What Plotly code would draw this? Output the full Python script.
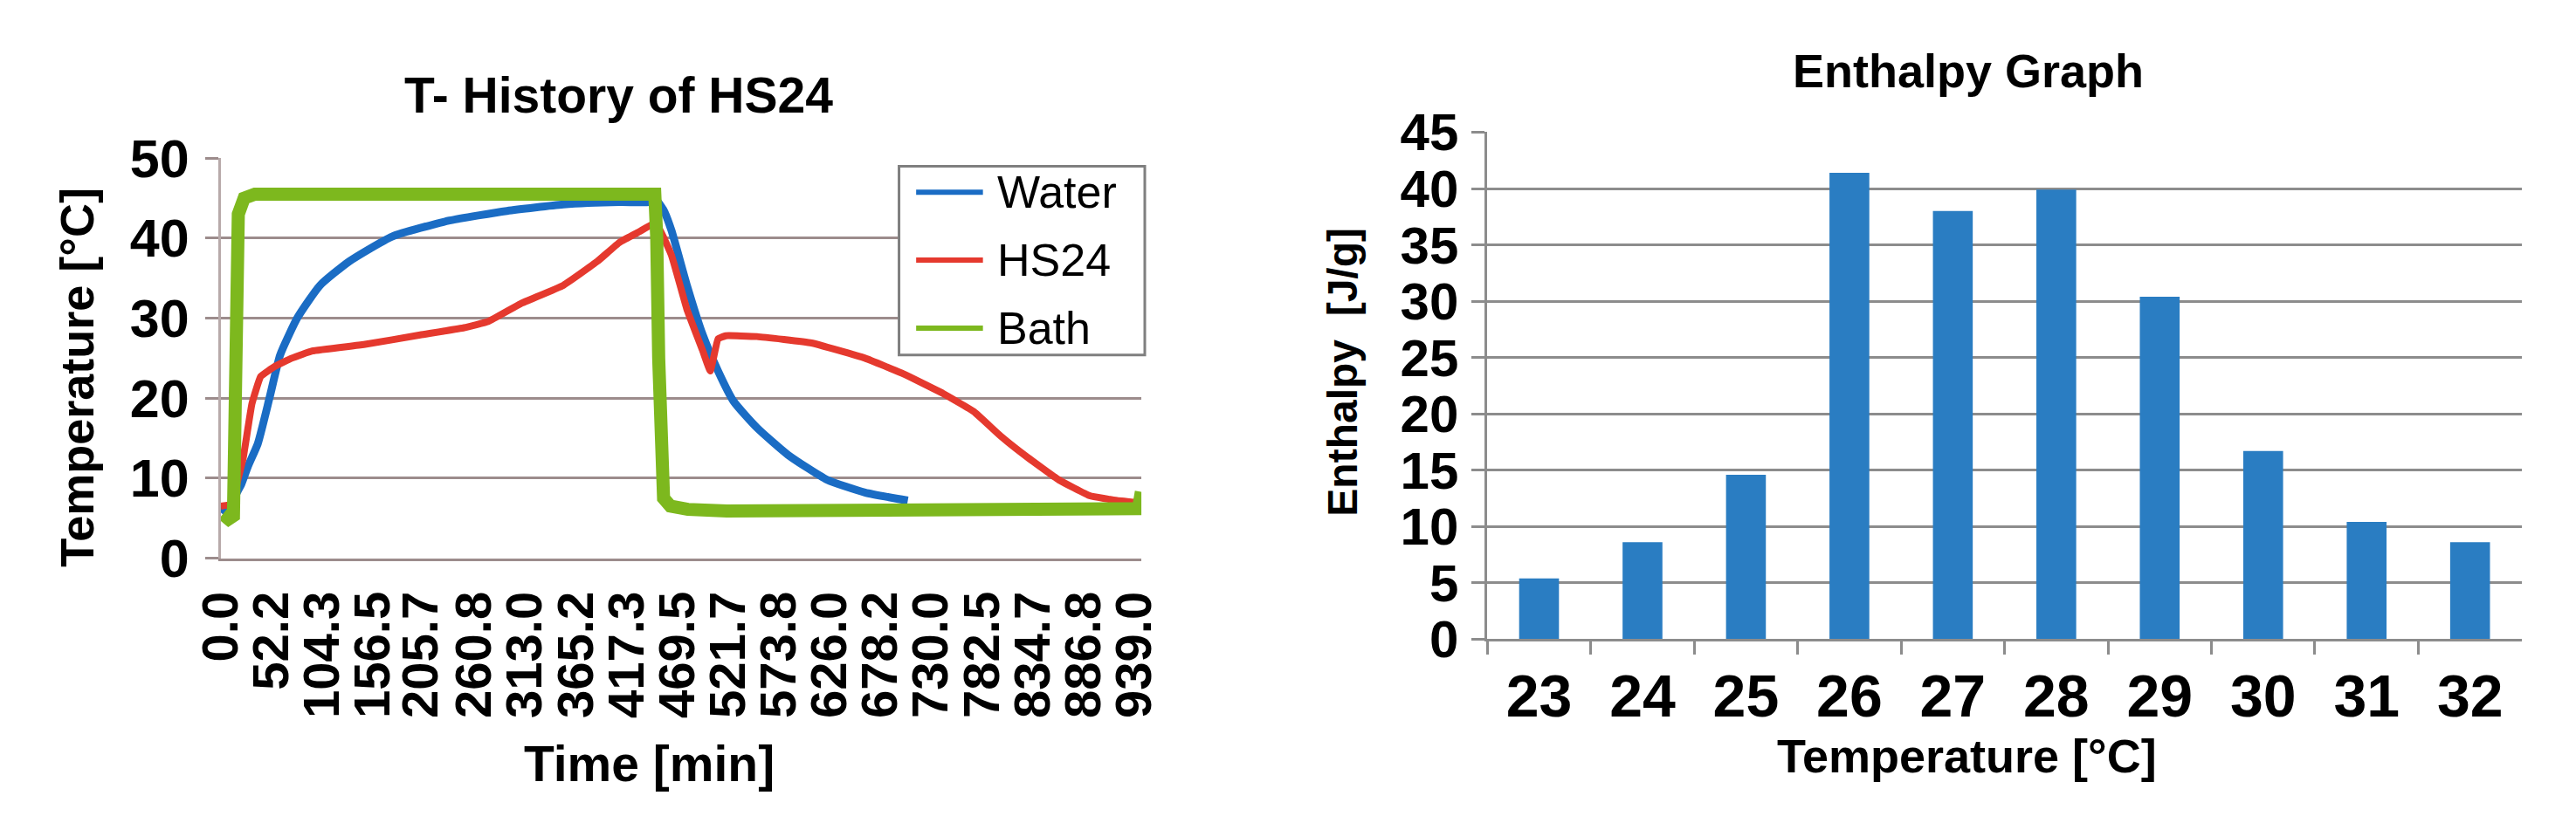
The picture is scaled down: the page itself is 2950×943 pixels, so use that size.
import plotly.graph_objects as go

W, H = 2950, 943

# ---- left chart: T-history (time in min, temperature in degC) ----
water_t = [0, 5, 12, 17, 21, 28, 38, 50, 61, 79, 102, 132, 176, 235, 294, 352, 410, 440,
           447, 455, 463, 479, 495, 511, 527, 551, 583, 623, 662, 706]
water_T = [6.5, 5.8, 7.0, 8.3, 9.2, 11.5, 14.3, 20.0, 25.4, 30.1, 34.1, 37.1, 40.2, 42.2,
           43.4, 44.2, 44.5, 44.5, 44.8, 43.5, 41.0, 34.1, 28.0, 23.4, 19.6, 16.3, 12.9,
           9.8, 8.2, 7.2]

hs24_t = [0, 12, 17, 23, 32, 41, 56, 73, 94, 147, 205, 250, 275, 308, 352, 387, 410, 430,
          447, 463, 479, 495, 503, 511, 519, 551, 607, 662, 702, 742, 774, 801, 829, 861,
          893, 921, 945]
hs24_T = [6.5, 6.8, 9.5, 12.5, 19.3, 22.7, 24.0, 25.0, 25.9, 26.7, 27.9, 28.8, 29.6, 31.8,
          34.1, 37.1, 39.5, 40.8, 41.9, 37.9, 31.1, 26.0, 23.4, 27.4, 27.8, 27.7, 26.9,
          25.0, 23.0, 20.6, 18.3, 15.3, 12.6, 9.8, 7.8, 7.2, 6.9]

bath_t = [2, 8, 13, 14, 15.5, 18, 24, 35, 446, 448, 450, 452, 455, 462, 480, 520, 940,
          943, 946]
bath_T = [5.5, 4.9, 5.3, 20.0, 38.0, 43.0, 45.0, 45.5, 45.5, 40.0, 25.0, 12.0, 7.5, 6.5,
          6.1, 5.9, 5.8, 6.2, 8.3]

time_labels = ["0.0", "52.2", "104.3", "156.5", "205.7", "260.8", "313.0", "365.2",
               "417.3", "469.5", "521.7", "573.8", "626.0", "678.2", "730.0", "782.5",
               "834.7", "886.8", "939.0"]

series_names = ["Water", "HS24", "Bath"]
series_colors = ["#1a6cc4", "#e5392e", "#7db81e"]

# ---- right chart: enthalpy per temperature step ----
enth_temp = ["23", "24", "25", "26", "27", "28", "29", "30", "31", "32"]
enth_val = [5.4, 8.6, 14.6, 41.4, 38.0, 39.9, 30.4, 16.7, 10.4, 8.6]

FONT = "Liberation Sans, Arial, sans-serif"
LGRID = "#9c8c8c"
RGRID = "#8c8c8c"


def px(x):
    return x / W


def py(y):
    return 1 - y / H


fig = go.Figure()
fig.add_trace(go.Scatter(x=water_t, y=water_T, mode="lines", name=series_names[0],
                         line=dict(color=series_colors[0], width=9, shape="spline",
                                   smoothing=0.5),
                         xaxis="x", yaxis="y"))
fig.add_trace(go.Scatter(x=hs24_t, y=hs24_T, mode="lines", name=series_names[1],
                         line=dict(color=series_colors[1], width=8, shape="spline",
                                   smoothing=0.3),
                         xaxis="x", yaxis="y"))
fig.add_trace(go.Scatter(x=bath_t, y=bath_T, mode="lines", name=series_names[2],
                         line=dict(color=series_colors[2], width=15),
                         xaxis="x", yaxis="y"))
fig.add_trace(go.Bar(x=enth_temp, y=enth_val, marker=dict(color="#2a7dc2", line_width=0),
                     xaxis="x2", yaxis="y2"))

fig.update_layout(
    width=W, height=H,
    margin=dict(l=0, r=0, t=0, b=0),
    paper_bgcolor="white", plot_bgcolor="white",
    font=dict(family=FONT, color="black"),
    showlegend=False,
    bargap=0.615,
    xaxis=dict(domain=[px(215), px(1290)], anchor="y", range=[0, 946],
               tickvals=[float(v) for v in time_labels], ticktext=time_labels,
               tickangle=-90, tickfont=dict(size=58, weight="bold"),
               showgrid=False, zeroline=False, showline=True, linecolor=LGRID,
               linewidth=3, ticks="", ticklabelstandoff=12),
    yaxis=dict(domain=[py(644), py(150)], anchor="x", range=[0, 50], dtick=10,
               tickfont=dict(size=61, weight="bold"), showgrid=True, gridcolor=LGRID,
               gridwidth=3, zeroline=False, showline=True, linecolor="#b8aaaa",
               linewidth=3, ticks="outside", ticklen=15, tickwidth=3, tickcolor=LGRID,
               ticklabelstandoff=6),
    xaxis2=dict(domain=[px(1694), px(2902)], anchor="y2", type="category",
                tickfont=dict(size=68, weight="bold"), showgrid=False, zeroline=False,
                showline=True, linecolor=RGRID, linewidth=3, ticks="outside",
                tickson="boundaries", ticklen=15, tickwidth=3, tickcolor=RGRID,
                ticklabelstandoff=4),
    yaxis2=dict(domain=[py(744), py(118)], anchor="x2", range=[0, 45], dtick=5,
                tickfont=dict(size=60, weight="bold"), showgrid=True, gridcolor=RGRID,
                gridwidth=3, zeroline=False, showline=True, linecolor=RGRID,
                linewidth=3, ticks="outside", ticklen=15, tickwidth=3, tickcolor=RGRID,
                ticklabelstandoff=3),
)

# legend box drawn like the spreadsheet one (long line samples)
fig.add_shape(type="rect", xref="paper", yref="paper",
              x0=px(1007), x1=px(1294), y0=py(393), y1=py(160),
              line=dict(color="#7f7f7f", width=3), fillcolor="white", layer="above")
leg_rows = [192, 276, 360]
for name, color, yy in zip(series_names, series_colors, leg_rows):
    fig.add_shape(type="line", xref="paper", yref="paper",
                  x0=px(1027), x1=px(1105), y0=py(yy), y1=py(yy),
                  line=dict(color=color, width=6), layer="above")
    fig.add_annotation(text=name, x=px(1120), y=py(yy), xref="paper", yref="paper",
                       xanchor="left", yanchor="middle", showarrow=False,
                       font=dict(size=52, family=FONT))

notes = [
    ("T- History of HS24", 680, 72, 57, 0),
    ("Time [min]", 715, 898, 57, 0),
    ("Temperature [°C]", 47, 421, 54, -90),
    ("Enthalpy Graph", 2256, 42, 54, 0),
    ("Enthalpy  [J/g]", 1525, 414, 48, -90),
    ("Temperature [°C]", 2254, 888, 54, 0),
]
for text, x, y, size, ang in notes:
    fig.add_annotation(text=text, x=px(x), y=py(y), xref="paper", yref="paper",
                       xanchor="center", yanchor="middle", showarrow=False,
                       textangle=ang, font=dict(size=size, weight="bold", family=FONT))

fig.write_html("out.html")
